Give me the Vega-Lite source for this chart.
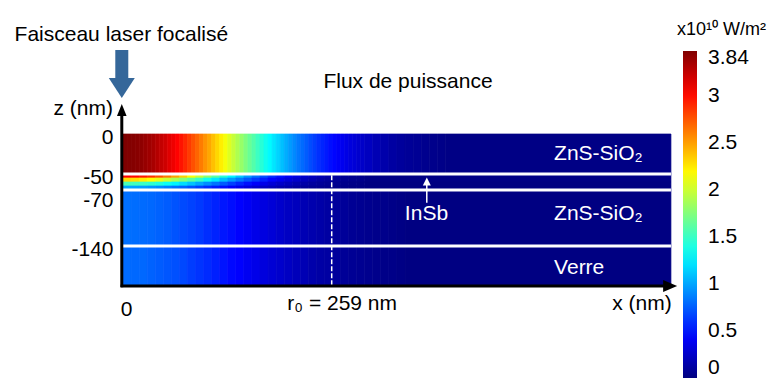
{
  "$schema": "https://vega.github.io/schema/vega-lite/v6.json",
  "width": 556,
  "height": 184,
  "autosize": {"type": "none"},
  "padding": {"left": 123, "top": 102, "right": 103, "bottom": 97},
  "background": "white",
  "config": {"view": {"stroke": null}, "font": "Liberation Sans"},
  "data": {"values": [{}]},
  "datasets": {
    "cells": [
      {"x":0,"x2":5,"z":0,"z2":-50,"v":3.48},{"x":5,"x2":10,"z":0,"z2":-50,"v":3.47},{"x":10,"x2":15,"z":0,"z2":-50,"v":3.46},{"x":15,"x2":20,"z":0,"z2":-50,"v":3.45},{"x":20,"x2":25,"z":0,"z2":-50,"v":3.43},{"x":25,"x2":30,"z":0,"z2":-50,"v":3.40},{"x":30,"x2":35,"z":0,"z2":-50,"v":3.37},{"x":35,"x2":40,"z":0,"z2":-50,"v":3.34},{"x":40,"x2":45,"z":0,"z2":-50,"v":3.30},{"x":45,"x2":50,"z":0,"z2":-50,"v":3.25},
      {"x":50,"x2":55,"z":0,"z2":-50,"v":3.21},{"x":55,"x2":60,"z":0,"z2":-50,"v":3.15},{"x":60,"x2":65,"z":0,"z2":-50,"v":3.10},{"x":65,"x2":70,"z":0,"z2":-50,"v":3.04},{"x":70,"x2":75,"z":0,"z2":-50,"v":2.98},{"x":75,"x2":80,"z":0,"z2":-50,"v":2.91},{"x":80,"x2":85,"z":0,"z2":-50,"v":2.84},{"x":85,"x2":90,"z":0,"z2":-50,"v":2.77},{"x":90,"x2":95,"z":0,"z2":-50,"v":2.70},{"x":95,"x2":100,"z":0,"z2":-50,"v":2.62},
      {"x":100,"x2":105,"z":0,"z2":-50,"v":2.54},{"x":105,"x2":110,"z":0,"z2":-50,"v":2.47},{"x":110,"x2":115,"z":0,"z2":-50,"v":2.39},{"x":115,"x2":120,"z":0,"z2":-50,"v":2.31},{"x":120,"x2":125,"z":0,"z2":-50,"v":2.23},{"x":125,"x2":130,"z":0,"z2":-50,"v":2.14},{"x":130,"x2":135,"z":0,"z2":-50,"v":2.06},{"x":135,"x2":140,"z":0,"z2":-50,"v":1.98},{"x":140,"x2":145,"z":0,"z2":-50,"v":1.90},{"x":145,"x2":150,"z":0,"z2":-50,"v":1.82},
      {"x":150,"x2":155,"z":0,"z2":-50,"v":1.74},{"x":155,"x2":160,"z":0,"z2":-50,"v":1.66},{"x":160,"x2":165,"z":0,"z2":-50,"v":1.59},{"x":165,"x2":170,"z":0,"z2":-50,"v":1.51},{"x":170,"x2":175,"z":0,"z2":-50,"v":1.44},{"x":175,"x2":180,"z":0,"z2":-50,"v":1.36},{"x":180,"x2":185,"z":0,"z2":-50,"v":1.29},{"x":185,"x2":190,"z":0,"z2":-50,"v":1.22},{"x":190,"x2":195,"z":0,"z2":-50,"v":1.16},{"x":195,"x2":200,"z":0,"z2":-50,"v":1.09},
      {"x":200,"x2":205,"z":0,"z2":-50,"v":1.03},{"x":205,"x2":210,"z":0,"z2":-50,"v":0.97},{"x":210,"x2":215,"z":0,"z2":-50,"v":0.91},{"x":215,"x2":220,"z":0,"z2":-50,"v":0.85},{"x":220,"x2":225,"z":0,"z2":-50,"v":0.80},{"x":225,"x2":230,"z":0,"z2":-50,"v":0.75},{"x":230,"x2":235,"z":0,"z2":-50,"v":0.70},{"x":235,"x2":240,"z":0,"z2":-50,"v":0.65},{"x":240,"x2":245,"z":0,"z2":-50,"v":0.60},{"x":245,"x2":250,"z":0,"z2":-50,"v":0.56},
      {"x":250,"x2":255,"z":0,"z2":-50,"v":0.52},{"x":255,"x2":260,"z":0,"z2":-50,"v":0.48},{"x":260,"x2":265,"z":0,"z2":-50,"v":0.45},{"x":265,"x2":270,"z":0,"z2":-50,"v":0.41},{"x":270,"x2":275,"z":0,"z2":-50,"v":0.38},{"x":275,"x2":280,"z":0,"z2":-50,"v":0.35},{"x":280,"x2":285,"z":0,"z2":-50,"v":0.32},{"x":285,"x2":290,"z":0,"z2":-50,"v":0.30},{"x":290,"x2":295,"z":0,"z2":-50,"v":0.27},{"x":295,"x2":300,"z":0,"z2":-50,"v":0.25},
      {"x":300,"x2":310,"z":0,"z2":-50,"v":0.22},{"x":310,"x2":320,"z":0,"z2":-50,"v":0.18},{"x":320,"x2":330,"z":0,"z2":-50,"v":0.15},{"x":330,"x2":340,"z":0,"z2":-50,"v":0.12},{"x":340,"x2":350,"z":0,"z2":-50,"v":0.10},{"x":350,"x2":360,"z":0,"z2":-50,"v":0.08},{"x":360,"x2":370,"z":0,"z2":-50,"v":0.07},{"x":370,"x2":380,"z":0,"z2":-50,"v":0.05},{"x":380,"x2":390,"z":0,"z2":-50,"v":0.04},{"x":390,"x2":400,"z":0,"z2":-50,"v":0.03},
      {"x":400,"x2":680,"z":0,"z2":-50,"v":0.02},

      {"x":0,"x2":10,"z":-50,"z2":-55,"v":3.05},{"x":10,"x2":20,"z":-50,"z2":-55,"v":3.02},{"x":20,"x2":30,"z":-50,"z2":-55,"v":2.96},{"x":30,"x2":40,"z":-50,"z2":-55,"v":2.88},{"x":40,"x2":50,"z":-50,"z2":-55,"v":2.77},{"x":50,"x2":60,"z":-50,"z2":-55,"v":2.64},{"x":60,"x2":70,"z":-50,"z2":-55,"v":2.49},{"x":70,"x2":80,"z":-50,"z2":-55,"v":2.33},{"x":80,"x2":90,"z":-50,"z2":-55,"v":2.16},{"x":90,"x2":100,"z":-50,"z2":-55,"v":1.99},
      {"x":100,"x2":110,"z":-50,"z2":-55,"v":1.80},{"x":110,"x2":120,"z":-50,"z2":-55,"v":1.63},{"x":120,"x2":130,"z":-50,"z2":-55,"v":1.45},{"x":130,"x2":140,"z":-50,"z2":-55,"v":1.28},{"x":140,"x2":150,"z":-50,"z2":-55,"v":1.12},{"x":150,"x2":160,"z":-50,"z2":-55,"v":0.97},{"x":160,"x2":170,"z":-50,"z2":-55,"v":0.83},{"x":170,"x2":180,"z":-50,"z2":-55,"v":0.71},{"x":180,"x2":190,"z":-50,"z2":-55,"v":0.60},{"x":190,"x2":200,"z":-50,"z2":-55,"v":0.50},
      {"x":200,"x2":210,"z":-50,"z2":-55,"v":0.41},{"x":210,"x2":220,"z":-50,"z2":-55,"v":0.34},{"x":220,"x2":230,"z":-50,"z2":-55,"v":0.27},{"x":230,"x2":240,"z":-50,"z2":-55,"v":0.22},{"x":240,"x2":250,"z":-50,"z2":-55,"v":0.18},{"x":250,"x2":260,"z":-50,"z2":-55,"v":0.14},{"x":260,"x2":270,"z":-50,"z2":-55,"v":0.11},{"x":270,"x2":280,"z":-50,"z2":-55,"v":0.08},{"x":280,"x2":290,"z":-50,"z2":-55,"v":0.06},{"x":290,"x2":300,"z":-50,"z2":-55,"v":0.05},
      {"x":300,"x2":680,"z":-50,"z2":-55,"v":0.02},

      {"x":0,"x2":10,"z":-55,"z2":-60,"v":2.30},{"x":10,"x2":20,"z":-55,"z2":-60,"v":2.28},{"x":20,"x2":30,"z":-55,"z2":-60,"v":2.23},{"x":30,"x2":40,"z":-55,"z2":-60,"v":2.17},{"x":40,"x2":50,"z":-55,"z2":-60,"v":2.09},{"x":50,"x2":60,"z":-55,"z2":-60,"v":1.99},{"x":60,"x2":70,"z":-55,"z2":-60,"v":1.88},{"x":70,"x2":80,"z":-55,"z2":-60,"v":1.76},{"x":80,"x2":90,"z":-55,"z2":-60,"v":1.63},{"x":90,"x2":100,"z":-55,"z2":-60,"v":1.50},
      {"x":100,"x2":110,"z":-55,"z2":-60,"v":1.36},{"x":110,"x2":120,"z":-55,"z2":-60,"v":1.23},{"x":120,"x2":130,"z":-55,"z2":-60,"v":1.09},{"x":130,"x2":140,"z":-55,"z2":-60,"v":0.97},{"x":140,"x2":150,"z":-55,"z2":-60,"v":0.85},{"x":150,"x2":160,"z":-55,"z2":-60,"v":0.73},{"x":160,"x2":170,"z":-55,"z2":-60,"v":0.63},{"x":170,"x2":180,"z":-55,"z2":-60,"v":0.54},{"x":180,"x2":190,"z":-55,"z2":-60,"v":0.45},{"x":190,"x2":200,"z":-55,"z2":-60,"v":0.38},
      {"x":200,"x2":210,"z":-55,"z2":-60,"v":0.31},{"x":210,"x2":220,"z":-55,"z2":-60,"v":0.26},{"x":220,"x2":230,"z":-55,"z2":-60,"v":0.21},{"x":230,"x2":240,"z":-55,"z2":-60,"v":0.17},{"x":240,"x2":250,"z":-55,"z2":-60,"v":0.13},{"x":250,"x2":260,"z":-55,"z2":-60,"v":0.10},{"x":260,"x2":270,"z":-55,"z2":-60,"v":0.08},{"x":270,"x2":280,"z":-55,"z2":-60,"v":0.06},{"x":280,"x2":290,"z":-55,"z2":-60,"v":0.05},{"x":290,"x2":300,"z":-55,"z2":-60,"v":0.04},
      {"x":300,"x2":680,"z":-55,"z2":-60,"v":0.02},

      {"x":0,"x2":10,"z":-60,"z2":-65,"v":1.55},{"x":10,"x2":20,"z":-60,"z2":-65,"v":1.53},{"x":20,"x2":30,"z":-60,"z2":-65,"v":1.50},{"x":30,"x2":40,"z":-60,"z2":-65,"v":1.46},{"x":40,"x2":50,"z":-60,"z2":-65,"v":1.41},{"x":50,"x2":60,"z":-60,"z2":-65,"v":1.34},{"x":60,"x2":70,"z":-60,"z2":-65,"v":1.27},{"x":70,"x2":80,"z":-60,"z2":-65,"v":1.19},{"x":80,"x2":90,"z":-60,"z2":-65,"v":1.10},{"x":90,"x2":100,"z":-60,"z2":-65,"v":1.01},
      {"x":100,"x2":110,"z":-60,"z2":-65,"v":0.92},{"x":110,"x2":120,"z":-60,"z2":-65,"v":0.83},{"x":120,"x2":130,"z":-60,"z2":-65,"v":0.74},{"x":130,"x2":140,"z":-60,"z2":-65,"v":0.65},{"x":140,"x2":150,"z":-60,"z2":-65,"v":0.57},{"x":150,"x2":160,"z":-60,"z2":-65,"v":0.49},{"x":160,"x2":170,"z":-60,"z2":-65,"v":0.42},{"x":170,"x2":180,"z":-60,"z2":-65,"v":0.36},{"x":180,"x2":190,"z":-60,"z2":-65,"v":0.30},{"x":190,"x2":200,"z":-60,"z2":-65,"v":0.25},
      {"x":200,"x2":210,"z":-60,"z2":-65,"v":0.21},{"x":210,"x2":220,"z":-60,"z2":-65,"v":0.17},{"x":220,"x2":230,"z":-60,"z2":-65,"v":0.14},{"x":230,"x2":240,"z":-60,"z2":-65,"v":0.11},{"x":240,"x2":250,"z":-60,"z2":-65,"v":0.09},{"x":250,"x2":260,"z":-60,"z2":-65,"v":0.07},{"x":260,"x2":270,"z":-60,"z2":-65,"v":0.06},{"x":270,"x2":280,"z":-60,"z2":-65,"v":0.04},{"x":280,"x2":290,"z":-60,"z2":-65,"v":0.03},{"x":290,"x2":300,"z":-60,"z2":-65,"v":0.02},
      {"x":300,"x2":680,"z":-60,"z2":-65,"v":0.01},

      {"x":0,"x2":10,"z":-65,"z2":-70,"v":1.00},{"x":10,"x2":20,"z":-65,"z2":-70,"v":0.99},{"x":20,"x2":30,"z":-65,"z2":-70,"v":0.97},{"x":30,"x2":40,"z":-65,"z2":-70,"v":0.94},{"x":40,"x2":50,"z":-65,"z2":-70,"v":0.91},{"x":50,"x2":60,"z":-65,"z2":-70,"v":0.87},{"x":60,"x2":70,"z":-65,"z2":-70,"v":0.82},{"x":70,"x2":80,"z":-65,"z2":-70,"v":0.77},{"x":80,"x2":90,"z":-65,"z2":-70,"v":0.71},{"x":90,"x2":100,"z":-65,"z2":-70,"v":0.65},
      {"x":100,"x2":110,"z":-65,"z2":-70,"v":0.59},{"x":110,"x2":120,"z":-65,"z2":-70,"v":0.53},{"x":120,"x2":130,"z":-65,"z2":-70,"v":0.48},{"x":130,"x2":140,"z":-65,"z2":-70,"v":0.42},{"x":140,"x2":150,"z":-65,"z2":-70,"v":0.37},{"x":150,"x2":160,"z":-65,"z2":-70,"v":0.32},{"x":160,"x2":170,"z":-65,"z2":-70,"v":0.27},{"x":170,"x2":180,"z":-65,"z2":-70,"v":0.23},{"x":180,"x2":190,"z":-65,"z2":-70,"v":0.20},{"x":190,"x2":200,"z":-65,"z2":-70,"v":0.16},
      {"x":200,"x2":210,"z":-65,"z2":-70,"v":0.14},{"x":210,"x2":220,"z":-65,"z2":-70,"v":0.11},{"x":220,"x2":230,"z":-65,"z2":-70,"v":0.09},{"x":230,"x2":240,"z":-65,"z2":-70,"v":0.07},{"x":240,"x2":250,"z":-65,"z2":-70,"v":0.06},{"x":250,"x2":260,"z":-65,"z2":-70,"v":0.05},{"x":260,"x2":270,"z":-65,"z2":-70,"v":0.04},{"x":270,"x2":280,"z":-65,"z2":-70,"v":0.03},{"x":280,"x2":290,"z":-65,"z2":-70,"v":0.02},{"x":290,"x2":300,"z":-65,"z2":-70,"v":0.02},
      {"x":300,"x2":680,"z":-65,"z2":-70,"v":0.01},

      {"x":0,"x2":10,"z":-70,"z2":-140,"v":0.82},{"x":10,"x2":20,"z":-70,"z2":-140,"v":0.81},{"x":20,"x2":30,"z":-70,"z2":-140,"v":0.80},{"x":30,"x2":40,"z":-70,"z2":-140,"v":0.79},{"x":40,"x2":50,"z":-70,"z2":-140,"v":0.77},{"x":50,"x2":60,"z":-70,"z2":-140,"v":0.75},{"x":60,"x2":70,"z":-70,"z2":-140,"v":0.72},{"x":70,"x2":80,"z":-70,"z2":-140,"v":0.69},{"x":80,"x2":90,"z":-70,"z2":-140,"v":0.66},{"x":90,"x2":100,"z":-70,"z2":-140,"v":0.63},
      {"x":100,"x2":110,"z":-70,"z2":-140,"v":0.59},{"x":110,"x2":120,"z":-70,"z2":-140,"v":0.55},{"x":120,"x2":130,"z":-70,"z2":-140,"v":0.51},{"x":130,"x2":140,"z":-70,"z2":-140,"v":0.48},{"x":140,"x2":150,"z":-70,"z2":-140,"v":0.44},{"x":150,"x2":160,"z":-70,"z2":-140,"v":0.40},{"x":160,"x2":170,"z":-70,"z2":-140,"v":0.36},{"x":170,"x2":180,"z":-70,"z2":-140,"v":0.33},{"x":180,"x2":190,"z":-70,"z2":-140,"v":0.30},{"x":190,"x2":200,"z":-70,"z2":-140,"v":0.26},
      {"x":200,"x2":210,"z":-70,"z2":-140,"v":0.23},{"x":210,"x2":220,"z":-70,"z2":-140,"v":0.21},{"x":220,"x2":230,"z":-70,"z2":-140,"v":0.18},{"x":230,"x2":240,"z":-70,"z2":-140,"v":0.16},{"x":240,"x2":250,"z":-70,"z2":-140,"v":0.14},{"x":250,"x2":260,"z":-70,"z2":-140,"v":0.12},{"x":260,"x2":270,"z":-70,"z2":-140,"v":0.10},{"x":270,"x2":280,"z":-70,"z2":-140,"v":0.09},{"x":280,"x2":290,"z":-70,"z2":-140,"v":0.07},{"x":290,"x2":300,"z":-70,"z2":-140,"v":0.06},
      {"x":300,"x2":310,"z":-70,"z2":-140,"v":0.05},{"x":310,"x2":320,"z":-70,"z2":-140,"v":0.04},{"x":320,"x2":330,"z":-70,"z2":-140,"v":0.04},{"x":330,"x2":340,"z":-70,"z2":-140,"v":0.03},{"x":340,"x2":350,"z":-70,"z2":-140,"v":0.02},
      {"x":350,"x2":680,"z":-70,"z2":-140,"v":0.01},

      {"x":0,"x2":10,"z":-140,"z2":-190,"v":0.80},{"x":10,"x2":20,"z":-140,"z2":-190,"v":0.79},{"x":20,"x2":30,"z":-140,"z2":-190,"v":0.79},{"x":30,"x2":40,"z":-140,"z2":-190,"v":0.77},{"x":40,"x2":50,"z":-140,"z2":-190,"v":0.75},{"x":50,"x2":60,"z":-140,"z2":-190,"v":0.73},{"x":60,"x2":70,"z":-140,"z2":-190,"v":0.71},{"x":70,"x2":80,"z":-140,"z2":-190,"v":0.68},{"x":80,"x2":90,"z":-140,"z2":-190,"v":0.64},{"x":90,"x2":100,"z":-140,"z2":-190,"v":0.61},
      {"x":100,"x2":110,"z":-140,"z2":-190,"v":0.58},{"x":110,"x2":120,"z":-140,"z2":-190,"v":0.54},{"x":120,"x2":130,"z":-140,"z2":-190,"v":0.50},{"x":130,"x2":140,"z":-140,"z2":-190,"v":0.46},{"x":140,"x2":150,"z":-140,"z2":-190,"v":0.43},{"x":150,"x2":160,"z":-140,"z2":-190,"v":0.39},{"x":160,"x2":170,"z":-140,"z2":-190,"v":0.36},{"x":170,"x2":180,"z":-140,"z2":-190,"v":0.32},{"x":180,"x2":190,"z":-140,"z2":-190,"v":0.29},{"x":190,"x2":200,"z":-140,"z2":-190,"v":0.26},
      {"x":200,"x2":210,"z":-140,"z2":-190,"v":0.23},{"x":210,"x2":220,"z":-140,"z2":-190,"v":0.20},{"x":220,"x2":230,"z":-140,"z2":-190,"v":0.18},{"x":230,"x2":240,"z":-140,"z2":-190,"v":0.15},{"x":240,"x2":250,"z":-140,"z2":-190,"v":0.13},{"x":250,"x2":260,"z":-140,"z2":-190,"v":0.12},{"x":260,"x2":270,"z":-140,"z2":-190,"v":0.10},{"x":270,"x2":280,"z":-140,"z2":-190,"v":0.08},{"x":280,"x2":290,"z":-140,"z2":-190,"v":0.07},{"x":290,"x2":300,"z":-140,"z2":-190,"v":0.06},
      {"x":300,"x2":310,"z":-140,"z2":-190,"v":0.05},{"x":310,"x2":320,"z":-140,"z2":-190,"v":0.04},{"x":320,"x2":330,"z":-140,"z2":-190,"v":0.03},{"x":330,"x2":340,"z":-140,"z2":-190,"v":0.03},{"x":340,"x2":350,"z":-140,"z2":-190,"v":0.02},
      {"x":350,"x2":680,"z":-140,"z2":-190,"v":0.01}
    ],
    "interfaces": [{"z": -50}, {"z": -70}, {"z": -140}]
  },
  "layer": [
    {
      "data": {"name": "cells"},
      "mark": {"type": "rect", "strokeWidth": 0.7},
      "encoding": {
        "x": {"field": "x", "type": "quantitative",
              "scale": {"domain": [0, 690], "nice": false, "zero": false},
              "axis": {"values": [0], "domain": false, "ticks": false, "grid": false, "title": null,
                       "labelFontSize": 21, "labelPadding": 12, "labelFlush": false, "labelOffset": 3,
                       "labelColor": "black", "labelFont": "Liberation Sans"}},
        "x2": {"field": "x2"},
        "y": {"field": "z", "type": "quantitative",
              "scale": {"domain": [-190, 40], "nice": false, "zero": false},
              "axis": {"values": [0, -50, -70, -140], "domain": false, "ticks": false, "grid": false, "title": null,
                       "labelExpr": "datum.value < 0 ? '-' + abs(datum.value) : '' + datum.value",
                       "labelFontSize": 21, "labelPadding": 10, "labelFlush": false,
                       "labelOffset": {"condition": {"test": "datum.value == -70", "value": 10}, "value": 3},
                       "labelOverlap": false, "labelColor": "black", "labelFont": "Liberation Sans"}},
        "y2": {"field": "z2"},
        "color": {"field": "v", "type": "quantitative",
                  "scale": {"domain": [0, 0.435, 0.87, 1.305, 1.74, 2.175, 2.61, 3.045, 3.48],
                            "range": ["#00007f", "#0000ff", "#007fff", "#00ffff", "#7fff7f", "#ffff00", "#ff7f00", "#ff0000", "#7f0000"],
                            "interpolate": "rgb"},
                  "legend": {"type": "gradient", "orient": "none", "legendX": 560, "legendY": -51, "direction": "vertical",
                             "gradientLength": 327, "gradientThickness": 14, "gradientStrokeWidth": 0,
                             "title": null, "padding": 0,
                             "values": [0, 0.5, 1, 1.5, 2, 2.5, 3, 3.41],
                             "labelExpr": "datum.value > 3.4 ? '3.84' : format(datum.value, '~g')",
                             "labelFontSize": 21, "labelFont": "Liberation Sans", "labelColor": "black",
                             "labelOffset": 11, "labelPadding": 13, "labelOverlap": false, "labelBaseline": "middle"}},
        "stroke": {"field": "v", "type": "quantitative",
                   "scale": {"domain": [3.48, 3.045, 2.61, 2.175, 1.74, 1.305, 0.87, 0.435, 0],
                             "range": ["#7f0000", "#ff0000", "#ff7f00", "#ffff00", "#7fff7f", "#00ffff", "#007fff", "#0000ff", "#00007f"],
                             "interpolate": "rgb"},
                   "legend": null}
      }
    },
    {
      "data": {"name": "interfaces"},
      "mark": {"type": "rule", "color": "white", "strokeWidth": 3},
      "encoding": {
        "y": {"field": "z", "type": "quantitative"},
        "x": {"datum": 0, "type": "quantitative"},
        "x2": {"datum": 680}
      }
    },
    {
      "mark": {"type": "rule", "color": "white", "strokeWidth": 1.5, "strokeDash": [5, 2]},
      "encoding": {
        "x": {"datum": 259, "type": "quantitative"},
        "y": {"datum": -51.5, "type": "quantitative"},
        "y2": {"datum": -190}
      }
    },
    {
      "mark": {"type": "rule", "color": "black", "strokeWidth": 3},
      "encoding": {
        "x": {"datum": -1.5, "type": "quantitative"},
        "y": {"datum": -191.5, "type": "quantitative"},
        "y2": {"datum": 31}
      }
    },
    {
      "mark": {"type": "rule", "color": "black", "strokeWidth": 3},
      "encoding": {
        "x": {"datum": -3, "type": "quantitative"},
        "x2": {"datum": 676},
        "y": {"datum": -190, "type": "quantitative"}
      }
    },
    {
      "mark": {"type": "point", "shape": "M0,-1L0.8,1L-0.8,1Z", "filled": true, "color": "black", "opacity": 1, "size": 144},
      "encoding": {
        "x": {"datum": -1.5, "type": "quantitative"},
        "y": {"datum": 30, "type": "quantitative"}
      }
    },
    {
      "mark": {"type": "point", "shape": "M1,0L-1,-0.85L-1,0.85Z", "filled": true, "color": "black", "opacity": 1, "size": 196},
      "encoding": {
        "x": {"datum": 679, "type": "quantitative"},
        "y": {"datum": -190, "type": "quantitative"}
      }
    },
    {
      "mark": {"type": "rule", "color": "#35679a", "strokeWidth": 13},
      "encoding": {
        "x": {"datum": -1.5, "type": "quantitative"},
        "y": {"datum": 105, "type": "quantitative"},
        "y2": {"datum": 66}
      }
    },
    {
      "mark": {"type": "point", "shape": "M-1,-0.77L1,-0.77L0,0.77Z", "filled": true, "color": "#35679a", "opacity": 1, "size": 676},
      "encoding": {
        "x": {"datum": -1.5, "type": "quantitative"},
        "y": {"datum": 57.5, "type": "quantitative"}
      }
    },
    {
      "mark": {"type": "rule", "color": "white", "strokeWidth": 1.5},
      "encoding": {
        "x": {"datum": 377, "type": "quantitative"},
        "y": {"datum": -62, "type": "quantitative"},
        "y2": {"datum": -86}
      }
    },
    {
      "mark": {"type": "point", "shape": "M0,-1L1,1L-1,1Z", "filled": true, "color": "white", "opacity": 1, "size": 64},
      "encoding": {
        "x": {"datum": 377, "type": "quantitative"},
        "y": {"datum": -59.4, "type": "quantitative"}
      }
    },
    {
      "mark": {"type": "text", "text": "Faisceau laser focalisé", "fontSize": 21, "font": "Liberation Sans", "color": "black", "align": "center", "baseline": "alphabetic"},
      "encoding": {
        "x": {"datum": -2, "type": "quantitative"},
        "y": {"datum": 116.5, "type": "quantitative"}
      }
    },
    {
      "mark": {"type": "text", "text": "Flux de puissance", "fontSize": 21, "font": "Liberation Sans", "color": "black", "align": "center", "baseline": "alphabetic"},
      "encoding": {
        "x": {"datum": 353.7, "type": "quantitative"},
        "y": {"datum": 57.5, "type": "quantitative"}
      }
    },
    {
      "mark": {"type": "text", "text": "z (nm)", "fontSize": 21, "font": "Liberation Sans", "color": "black", "align": "right", "baseline": "alphabetic"},
      "encoding": {
        "x": {"datum": -12.4, "type": "quantitative"},
        "y": {"datum": 23.75, "type": "quantitative"}
      }
    },
    {
      "mark": {"type": "text", "text": "ZnS-SiO₂", "fontSize": 21, "font": "Liberation Sans", "color": "white", "align": "left", "baseline": "alphabetic"},
      "encoding": {
        "x": {"datum": 535, "type": "quantitative"},
        "y": {"datum": -32.5, "type": "quantitative"}
      }
    },
    {
      "mark": {"type": "text", "text": "ZnS-SiO₂", "fontSize": 21, "font": "Liberation Sans", "color": "white", "align": "left", "baseline": "alphabetic"},
      "encoding": {
        "x": {"datum": 535, "type": "quantitative"},
        "y": {"datum": -107.5, "type": "quantitative"}
      }
    },
    {
      "mark": {"type": "text", "text": "Verre", "fontSize": 21, "font": "Liberation Sans", "color": "white", "align": "left", "baseline": "alphabetic"},
      "encoding": {
        "x": {"datum": 535, "type": "quantitative"},
        "y": {"datum": -175, "type": "quantitative"}
      }
    },
    {
      "mark": {"type": "text", "text": "InSb", "fontSize": 21, "font": "Liberation Sans", "color": "white", "align": "center", "baseline": "alphabetic"},
      "encoding": {
        "x": {"datum": 376.6, "type": "quantitative"},
        "y": {"datum": -107.5, "type": "quantitative"}
      }
    },
    {
      "mark": {"type": "text", "text": "r₀ = 259 nm", "fontSize": 21, "font": "Liberation Sans", "color": "black", "align": "center", "baseline": "alphabetic"},
      "encoding": {
        "x": {"datum": 272, "type": "quantitative"},
        "y": {"datum": -220, "type": "quantitative"}
      }
    },
    {
      "mark": {"type": "text", "text": "x (nm)", "fontSize": 21, "font": "Liberation Sans", "color": "black", "align": "right", "baseline": "alphabetic"},
      "encoding": {
        "x": {"datum": 681, "type": "quantitative"},
        "y": {"datum": -220, "type": "quantitative"}
      }
    },
    {
      "mark": {"type": "text", "text": "x10¹⁰ W/m²", "fontSize": 18, "font": "Liberation Sans", "color": "black", "align": "left", "baseline": "alphabetic"},
      "encoding": {
        "x": {"datum": 687.5, "type": "quantitative"},
        "y": {"datum": 123.75, "type": "quantitative"}
      }
    }
  ]
}
